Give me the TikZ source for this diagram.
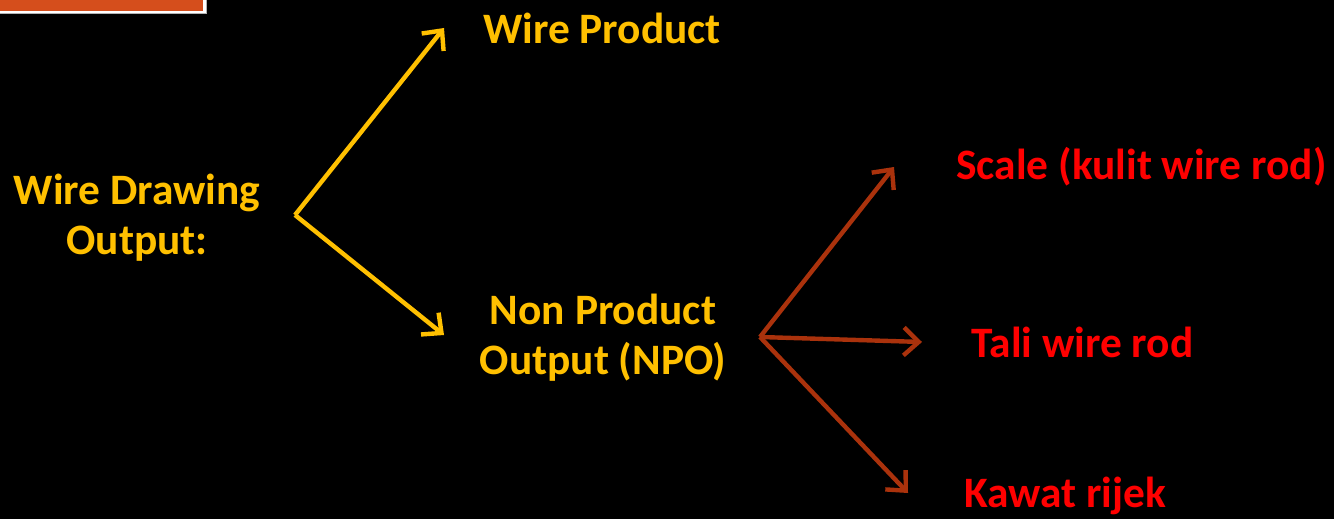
\documentclass[tikz,border=0pt]{standalone}
\usepackage{fontspec}
\setmainfont{Carlito}
\usetikzlibrary{arrows.meta}
\definecolor{gold}{RGB}{255,192,0}
\definecolor{rust}{RGB}{170,50,12}
\definecolor{accent}{RGB}{213,78,28}
\definecolor{brightred}{RGB}{255,0,0}
\begin{document}
\begin{tikzpicture}[x=0.5pt,y=-0.5pt,
  lbl/.style={font=\bfseries\fontsize{21.7}{25}\selectfont, inner sep=0pt, align=center},
  goldtxt/.style={lbl, text=gold},
  redtxt/.style={lbl, text=brightred, anchor=west},
  goldarrow/.style={draw=gold, line width=2.2pt, -{Straight Barb[length=7.5pt,width=14pt,line width=2.2pt]}},
  rustarrow/.style={draw=rust, line width=2.2pt, -{Straight Barb[length=7.5pt,width=14pt,line width=2.2pt]}}
]
\fill[black] (0,0) rectangle (1334,519);
\useasboundingbox (0,0) rectangle (1334,519);
% header bar
\fill[gray!60] (-5,-5) rectangle (207,14.5);
\fill[white] (-5,-5) rectangle (206,13);
\fill[accent] (-5,-5) rectangle (203,11);

\node[goldtxt] (wdo) at (137,218) {Wire Drawing\\Output:};
\node[goldtxt] (wp) at (602,28) {Wire Product};
\node[goldtxt] (npo) at (603,338) {Non Product\\Output (NPO)};
\node[redtxt] (scale) at (956,167) {Scale (kulit wire rod)};
\node[redtxt] (tali) at (971,342) {Tali wire rod};
\node[redtxt] (kawat) at (964,496) {Kawat rijek};

\coordinate (s1) at (295,215);
\coordinate (t1) at (444,28);
\coordinate (t2) at (444,335);
\coordinate (s2) at (760,337);
\coordinate (t3) at (894,167);
\coordinate (t4) at (922,342);
\coordinate (t5) at (908,493);

\draw[goldarrow] (s1) -- (t1);
\draw[goldarrow] (s1) -- (t2);
\draw[rustarrow] (s2) -- (t3);
\draw[rustarrow] (s2) -- (t4);
\draw[rustarrow] (s2) -- (t5);
\end{tikzpicture}
\end{document}
